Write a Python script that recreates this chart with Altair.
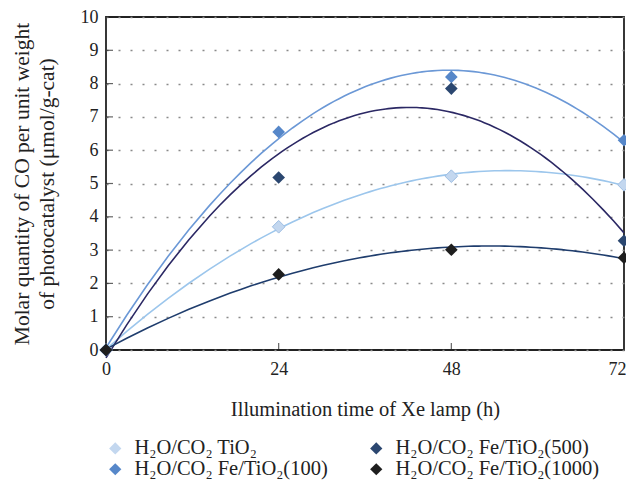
import altair as alt
import pandas as pd

# ---- data ----
hours = [0, 24, 48, 72]
series_names = [
    "H₂O/CO₂ TiO₂",
    "H₂O/CO₂ Fe/TiO₂(100)",
    "H₂O/CO₂ Fe/TiO₂(500)",
    "H₂O/CO₂ Fe/TiO₂(1000)",
]
tio2 = [0, 3.70, 5.22, 4.96]
fe100 = [0, 6.55, 8.20, 6.30]
fe500 = [0, 5.18, 7.85, 3.28]
fe1000 = [0, 2.27, 3.01, 2.77]

x_ticks = [0, 24, 48, 72]
y_ticks = list(range(0, 11))
inner_x_ticks = [24, 48]

fill_colors = ["#c3d7ef", "#5687c9", "#2b4770", "#1e1e1e"]
trend_colors = ["#9cc6ec", "#6b98d6", "#2b2864", "#1f3d6d"]

rows = []
for name, vals in zip(series_names, [tio2, fe100, fe500, fe1000]):
    for h, v in zip(hours, vals):
        rows.append({"series": name, "x": h, "y": v})
df = pd.DataFrame(rows)

FONT = "Liberation Serif"
W, H = 518, 333

xscale = alt.Scale(domain=[0, 72], nice=False, zero=False)
yscale = alt.Scale(domain=[0, 10], nice=False)

x_axis = alt.Axis(values=x_ticks, title="Illumination time of Xe lamp (h)",
                  grid=False, domain=False, ticks=False, labelPadding=10,
                  labelFontSize=18, titleFontSize=20.5, titlePadding=21,
                  labelOverlap=False, labelFlush=False,
                  labelAlign={"condition": {"test": "datum.value >= 72", "value": "right"},
                              "value": "center"},
                  labelOffset={"condition": {"test": "datum.value >= 72", "value": 2},
                               "value": 0})
y_axis = alt.Axis(values=y_ticks, title=["Molar quantity of CO per unit weight",
                                         "of photocatalyst (μmol/g-cat)"],
                  grid=True, gridDash=[2, 10], gridColor="#8a8a8a", gridWidth=1.4,
                  domain=False, ticks=False, labelPadding=8,
                  labelFontSize=18, titleFontSize=21.5, titlePadding=22,
                  titleLineHeight=25, labelOverlap=False, labelFlush=False)

X = alt.X("x:Q", scale=xscale, axis=x_axis)
Y = alt.Y("y:Q", scale=yscale, axis=y_axis)

base = alt.Chart(df)

trend = base.transform_regression(
    "x", "y", method="poly", order=2, groupby=["series"], extent=[0, 72]
).mark_line(strokeWidth=1.6).encode(
    x=X,
    y=Y,
    stroke=alt.Stroke("series:N",
                      scale=alt.Scale(domain=series_names[::-1], range=trend_colors[::-1]),
                      legend=None),
    detail="series:N",
)

points = base.mark_point(shape="diamond", filled=True, size=160, strokeWidth=1, opacity=1).encode(
    x=X,
    y=Y,
    fill=alt.Fill("series:N", scale=alt.Scale(domain=series_names, range=fill_colors),
                  legend=alt.Legend(title=None, orient="none", legendX=-1, legendY=421,
                                    columns=2, columnPadding=38, rowPadding=0,
                                    symbolType="diamond", symbolSize=150,
                                    symbolStrokeWidth=0,
                                    labelFontSize=20.5,
                                    labelOffset=9, labelLimit=400, padding=0)),
    stroke=alt.condition(f"datum.series == '{series_names[0]}'",
                         alt.value("#9ebee3"), alt.value("transparent")),
)

ytick_df = pd.DataFrame({"y": y_ticks})
xtick_df = pd.DataFrame({"x": inner_x_ticks})

yticks = alt.Chart(ytick_df).mark_tick(
    orient="horizontal", color="#222", thickness=1.2, size=7
).encode(y=Y, x=alt.value(3.5))
xticks = alt.Chart(xtick_df).mark_tick(
    orient="vertical", color="#222", thickness=1.2, size=7
).encode(x=X, y=alt.value(H - 3.5))

chart = alt.layer(trend, yticks, xticks, points).properties(
    width=W, height=H,
    background="white",
    autosize=alt.AutoSizeParams(type="none"),
    padding={"left": 98, "top": 9, "right": 2, "bottom": 131},
).configure_view(
    stroke="#222", strokeWidth=1.8
).configure_axis(
    labelFont=FONT, titleFont=FONT, labelColor="#222", titleColor="#222",
    titleFontWeight="normal"
).configure_legend(
    labelFont=FONT, labelColor="#222", labelFontSize=20.5
)

chart.save("out.html", embed_options={"renderer": "svg", "actions": False})
